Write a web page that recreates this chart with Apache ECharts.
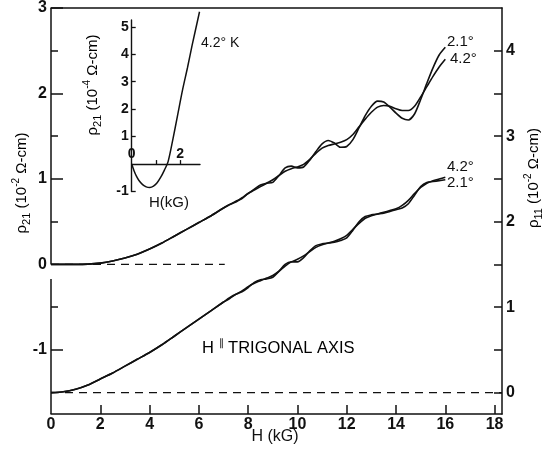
<!DOCTYPE html>
<html><head><meta charset="utf-8">
<script src="https://cdn.jsdelivr.net/npm/echarts@6/dist/echarts.min.js"></script>
<style>html,body{margin:0;padding:0;background:#fff}#c{width:552px;height:457px}</style>
</head><body><div id="c"></div>
<script>
// ---- data ----
const fieldH = [0,0.5,1,1.5,2,2.5,3,3.5,4,4.5,5,5.5,6,6.5,7,7.25,7.5,7.75,8,8.25,8.5,8.75,9,9.25,9.5,9.75,10,10.25,10.5,10.75,11,11.25,11.5,11.75,12,12.25,12.5,12.75,13,13.25,13.5,13.75,14,14.25,14.5,14.75,15,15.25,15.5,15.75,16];
// rho21 (left axis, 10^-2 ohm-cm)
const rho21_T21 = [0,0,0,0.003,0.015,0.04,0.075,0.12,0.18,0.25,0.33,0.41,0.49,0.57,0.66,0.70,0.74,0.77,0.83,0.88,0.93,0.95,0.96,1.04,1.13,1.15,1.13,1.14,1.22,1.32,1.41,1.45,1.42,1.37,1.38,1.46,1.60,1.74,1.85,1.91,1.90,1.84,1.77,1.71,1.69,1.76,1.93,2.12,2.30,2.45,2.54];
const rho21_T42 = [0,0,0,0.003,0.015,0.04,0.075,0.12,0.18,0.25,0.33,0.41,0.49,0.57,0.66,0.70,0.73,0.78,0.83,0.87,0.91,0.95,0.99,1.04,1.09,1.12,1.14,1.17,1.23,1.30,1.36,1.39,1.41,1.43,1.46,1.52,1.61,1.70,1.78,1.84,1.86,1.85,1.82,1.80,1.80,1.85,1.96,2.08,2.20,2.31,2.40];
// rho11 (right axis, 10^-2 ohm-cm)
const rho11_T42 = [0,0.01,0.04,0.09,0.16,0.23,0.31,0.39,0.47,0.56,0.66,0.76,0.86,0.96,1.06,1.10,1.15,1.19,1.24,1.28,1.31,1.34,1.37,1.42,1.48,1.53,1.56,1.60,1.65,1.70,1.73,1.75,1.77,1.80,1.84,1.91,1.98,2.04,2.07,2.09,2.11,2.13,2.15,2.19,2.25,2.33,2.40,2.45,2.48,2.50,2.52];
const rho11_T21 = [0,0.01,0.04,0.09,0.16,0.23,0.31,0.39,0.47,0.56,0.66,0.76,0.86,0.96,1.06,1.11,1.15,1.18,1.23,1.29,1.32,1.33,1.35,1.42,1.50,1.53,1.53,1.58,1.66,1.72,1.74,1.75,1.76,1.78,1.81,1.90,2.00,2.06,2.08,2.09,2.10,2.12,2.14,2.16,2.21,2.31,2.41,2.46,2.47,2.48,2.49];
// inset: rho21 (10^-4 ohm-cm) at 4.2 K
const insetH = [0,0.1,0.2,0.3,0.45,0.6,0.75,0.9,1.05,1.2,1.35,1.5,1.7,1.9,2.1,2.3,2.5,2.7,2.8];
const insetRho21 = [0,-0.25,-0.45,-0.6,-0.75,-0.83,-0.85,-0.8,-0.68,-0.48,-0.22,0.08,0.9,1.8,2.7,3.5,4.35,5.15,5.55];
// baselines
const upperBaselineH = [0, 7.05];
const lowerBaselineH = [0, 18.3];
// tick labels
const xTickLabels = [0,2,4,6,8,10,12,14,16,18];
const leftTickLabels = [-1,0,1,2,3];
const rightTickLabels = [0,1,2,3,4];
const insetXTickLabels = [0,2];
const insetYTickLabels = [-1,1,2,3,4,5];

const FONT = "'Liberation Sans', Arial, sans-serif";
const INK = '#111';
const zip = (a, b) => a.map((v, i) => [v, b[i]]);

const lineBase = { type: 'line', showSymbol: false, symbol: 'none', animation: false, smooth: 0.25,
  lineStyle: { color: INK, width: 1.6 } };

const tickLabel = (sz) => ({ color: INK, fontFamily: FONT, fontSize: sz, fontWeight: 'bold' });

const chart = echarts.init(document.getElementById('c'), null, { renderer: 'canvas' });
const rich = (sz) => ({
  n: { fontSize: sz, fontFamily: FONT, color: INK, lineHeight: sz + 6 },
  sub: { fontSize: sz - 4, fontFamily: FONT, color: INK, verticalAlign: 'bottom', lineHeight: sz + 6 },
  sup: { fontSize: sz - 5, fontFamily: FONT, color: INK, verticalAlign: 'top', lineHeight: sz + 6 }
});
const txt = (x, y, text, sz, align) => ({
  type: 'text', x: x, y: y, silent: true,
  style: { text: text, fontSize: sz, fontFamily: FONT, fill: INK, align: align || 'left', verticalAlign: 'middle' }
});

// inset geometry
const INSET_LEFT = 131.7, INSET_TOP = 20, INSET_W = 68.3, INSET_H = 171.5;
const INSET_YMIN = -1, INSET_YMAX = 5.25;
const insetZeroH = INSET_H * INSET_YMAX / (INSET_YMAX - INSET_YMIN);

chart.setOption({
  backgroundColor: '#fff',
  animation: false,
  grid: [
    { left: 51, top: 4, width: 451, height: 410 },
    { left: INSET_LEFT, top: INSET_TOP, width: INSET_W, height: INSET_H },
    { left: INSET_LEFT, top: INSET_TOP, width: INSET_W, height: insetZeroH }
  ],
  xAxis: [
    { type: 'value', gridIndex: 0, min: 0, max: 18.3, position: 'bottom',
      axisLine: { onZero: false, lineStyle: { color: INK, width: 1.5 } },
      axisTick: { inside: true, length: 9, lineStyle: { color: INK, width: 1.5 }, customValues: [2,4,6,8,10,12,14,16,18] },
      axisLabel: Object.assign({ margin: 3, customValues: xTickLabels }, tickLabel(16)),
      splitLine: { show: false } },
    { type: 'value', gridIndex: 0, min: 0, max: 18.3, position: 'top',
      axisLine: { onZero: false, lineStyle: { color: INK, width: 1.5 } },
      axisTick: { show: false }, axisLabel: { show: false }, splitLine: { show: false } },
    { type: 'value', gridIndex: 1, min: 0, max: 2.82,
      axisLine: { show: false, onZero: false },
      axisTick: { show: false }, axisLabel: { show: false }, splitLine: { show: false } },
    { type: 'value', gridIndex: 2, min: 0, max: 2.82, position: 'bottom',
      axisLine: { onZero: false, lineStyle: { color: INK, width: 1.4 } },
      axisTick: { inside: true, length: 4, lineStyle: { color: INK, width: 1.3 }, customValues: [1, 2] },
      axisLabel: Object.assign({ inside: true, margin: 3, customValues: insetXTickLabels }, tickLabel(14)),
      splitLine: { show: false } }
  ],
  yAxis: [
    { type: 'value', gridIndex: 0, min: -1.75, max: 3, position: 'left',
      axisLine: { show: false, onZero: false },
      axisTick: { inside: true, length: 12, lineStyle: { color: INK, width: 1.5 }, customValues: [-1, 1, 2, 3] },
      axisLabel: Object.assign({ margin: 4, customValues: leftTickLabels }, tickLabel(16)),
      splitLine: { show: false } },
    { type: 'value', gridIndex: 0, min: -0.25, max: 4.5, position: 'right',
      axisLine: { onZero: false, lineStyle: { color: INK, width: 1.5 } },
      axisTick: { inside: true, length: 8, lineStyle: { color: INK, width: 1.5 }, customValues: [0,0.5,1,1.5,2,2.5,3,3.5,4] },
      axisLabel: Object.assign({ margin: 4, customValues: rightTickLabels }, tickLabel(16)),
      splitLine: { show: false } },
    { type: 'value', gridIndex: 0, min: -1.75, max: 3, position: 'left',
      axisLine: { show: false, onZero: false },
      axisTick: { inside: true, length: 7, lineStyle: { color: INK, width: 1.5 }, customValues: [-0.5, 0.5, 1.5, 2.5] },
      axisLabel: { show: false }, splitLine: { show: false } },
    { type: 'value', gridIndex: 1, min: INSET_YMIN, max: INSET_YMAX, position: 'left',
      axisLine: { onZero: false, lineStyle: { color: INK, width: 1.4 } },
      axisTick: { inside: true, length: 4, lineStyle: { color: INK, width: 1.3 }, customValues: [-1,1,2,3,4,5] },
      axisLabel: Object.assign({ margin: 3, customValues: insetYTickLabels }, tickLabel(14)),
      splitLine: { show: false } },
    { type: 'value', gridIndex: 2, min: 0, max: INSET_YMAX,
      axisLine: { show: false, onZero: false }, axisTick: { show: false }, axisLabel: { show: false }, splitLine: { show: false } }
  ],
  series: [
    Object.assign({}, lineBase, { name: 'rho21 2.1K', xAxisIndex: 0, yAxisIndex: 0, data: zip(fieldH, rho21_T21) }),
    Object.assign({}, lineBase, { name: 'rho21 4.2K', xAxisIndex: 0, yAxisIndex: 0, data: zip(fieldH, rho21_T42) }),
    Object.assign({}, lineBase, { name: 'rho11 4.2K', xAxisIndex: 0, yAxisIndex: 1, data: zip(fieldH, rho11_T42) }),
    Object.assign({}, lineBase, { name: 'rho11 2.1K', xAxisIndex: 0, yAxisIndex: 1, data: zip(fieldH, rho11_T21) }),
    Object.assign({}, lineBase, { name: 'base21', smooth: false, xAxisIndex: 0, yAxisIndex: 0,
      data: upperBaselineH.map(h => [h, 0]), lineStyle: { color: INK, width: 1.4, type: [8, 6] } }),
    Object.assign({}, lineBase, { name: 'base11', smooth: false, xAxisIndex: 0, yAxisIndex: 1,
      data: lowerBaselineH.map(h => [h, 0]), lineStyle: { color: INK, width: 1.4, type: [8, 6] } }),
    Object.assign({}, lineBase, { name: 'leftAxisUpper', smooth: false, xAxisIndex: 0, yAxisIndex: 0,
      data: [[0, 3], [0, 0]], lineStyle: { color: INK, width: 1.5 } }),
    Object.assign({}, lineBase, { name: 'leftAxisLower', smooth: false, xAxisIndex: 0, yAxisIndex: 0,
      data: [[0, -0.17], [0, -1.75]], lineStyle: { color: INK, width: 1.5 } }),
    Object.assign({}, lineBase, { name: 'inset', smooth: 0.3, clip: false, xAxisIndex: 2, yAxisIndex: 3,
      data: zip(insetH, insetRho21), lineStyle: { color: INK, width: 1.5 } })
  ],
  graphic: [
    { type: 'text', x: 22, y: 183, rotation: Math.PI / 2, silent: true,
      style: { text: '{n|ρ}{sub|21}{n| (10}{sup|-2}{n| Ω-cm)}', rich: rich(15), align: 'center', verticalAlign: 'middle' } },
    { type: 'text', x: 534, y: 178, rotation: Math.PI / 2, silent: true,
      style: { text: '{n|ρ}{sub|11}{n| (10}{sup|-2}{n| Ω-cm)}', rich: rich(15), align: 'center', verticalAlign: 'middle' } },
    { type: 'text', x: 93, y: 85, rotation: Math.PI / 2, silent: true,
      style: { text: '{n|ρ}{sub|21}{n| (10}{sup|-4}{n| Ω-cm)}', rich: rich(15), align: 'center', verticalAlign: 'middle' } },
    txt(275, 437, 'H (kG)', 16, 'center'),
    txt(169, 203, 'H(kG)', 15, 'center'),
    txt(201, 43, '4.2° K', 14, 'left'),
    txt(447, 42, '2.1°', 15, 'left'),
    txt(450, 59, '4.2°', 15, 'left'),
    txt(447, 167, '4.2°', 15, 'left'),
    txt(447, 183, '2.1°', 15, 'left'),
    { type: 'text', x: 202, y: 348, silent: true,
      style: { text: '{n|H }{p|∥}{n| TRIGONAL AXIS}', align: 'left', verticalAlign: 'middle',
        rich: { n: { fontSize: 16.5, fontFamily: FONT, color: INK, lineHeight: 19 },
                p: { fontSize: 10, fontFamily: FONT, color: INK, verticalAlign: 'top', lineHeight: 19 } } } }
  ]
});
</script></body></html>
